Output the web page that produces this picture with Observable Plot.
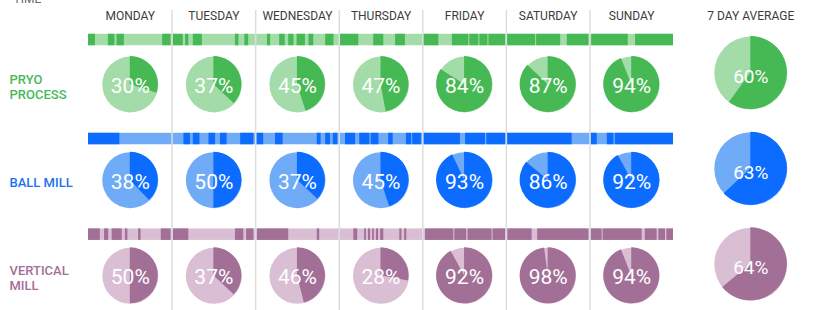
<!DOCTYPE html>
<html>
<head>
<meta charset="utf-8">
<script src="https://cdn.jsdelivr.net/npm/d3@7"></script>
<script src="https://cdn.jsdelivr.net/npm/@observablehq/plot@0.6"></script>
<style>
  html, body { margin: 0; padding: 0; background: #fff; }
  #chart svg { display: block; overflow: visible; }
  g[aria-label="pct"] text { text-shadow: 0 1px 2px rgba(0,0,0,0.35); }
</style>
</head>
<body>
<div id="chart"></div>
<script>
// ---------- data ----------
const days = ["MONDAY", "TUESDAY", "WEDNESDAY", "THURSDAY", "FRIDAY", "SATURDAY", "SUNDAY"];
const averageHeader = "7 DAY AVERAGE";
const processes = ["PRYO PROCESS", "BALL MILL", "VERTICAL MILL"];
const processLabels = ["PRYO\nPROCESS", "BALL MILL", "VERTICAL\nMILL"];

// daily running share (%)
const pyroPct = [30, 37, 45, 47, 84, 87, 94];
const ballPct = [38, 50, 37, 45, 93, 86, 92];
const vertPct = [50, 37, 46, 28, 92, 98, 94];
const averagePct = [60, 63, 64];

// running periods, [start hour, end hour] over the 168-hour week
const pyroRuns = [
  [0, 2.0], [5.7, 7.6], [8.2, 10.3], [21.3, 23.7],
  [24.3, 27.2], [27.9, 28.8], [30.1, 32.7], [42.2, 43.2], [44.9, 46.0],
  [51.4, 52.3], [54.9, 56.5], [57.5, 59.0], [59.9, 62.3], [63.3, 64.7], [68.1, 70.5],
  [72.4, 77.6], [81.9, 84.8], [88.2, 91.0],
  [96.3, 100.6], [104.5, 109.2], [109.5, 112.1], [112.4, 114.7], [115.0, 119.8],
  [120.3, 128.4], [128.7, 135.6], [137.5, 143.7],
  [144.5, 155.0], [157.1, 168]
];
const ballRuns = [
  [0, 9.0],
  [27.4, 29.3], [30.1, 32.0], [34.6, 36.5], [37.9, 39.8], [43.7, 47.5],
  [48.4, 50.3], [53.7, 55.9], [65.7, 66.8], [68.1, 69.5], [70.3, 71.6],
  [73.8, 76.7], [77.9, 80.8], [81.2, 83.4], [86.2, 87.5], [91.3, 92.8], [93.1, 95.6],
  [96.3, 106.8], [108.3, 114.0], [114.4, 119.8],
  [120.2, 138.9],
  [144.4, 146.1], [149.0, 150.9], [151.3, 168]
];
const vertRuns = [
  [0, 3.4], [4.6, 5.8], [6.8, 9.7], [10.6, 11.3], [14.4, 15.1], [20.9, 23.7],
  [24.3, 28.8], [42.2, 44.6], [45.4, 47.5],
  [48.5, 57.5], [65.7, 66.4],
  [76.2, 77.3], [79.3, 79.8], [80.4, 81.0], [81.6, 82.1], [82.7, 83.3], [83.9, 84.8], [89.4, 90.0], [90.8, 91.4],
  [96.8, 104.9], [105.2, 108.6], [109.0, 115.9], [116.2, 119.8],
  [120.4, 127.4], [129.0, 143.7],
  [144.4, 147.5], [147.8, 159.0], [159.9, 163.3], [163.8, 165.7], [166.1, 168]
];

// ---------- styles ----------
const darkColors = ["#46b955", "#0b6cff", "#a26f97"];
const lightColors = ["#a3dca8", "#6fabf7", "#d9bed4"];
const labelColors = ["#48b958", "#1a72f2", "#a26f97"];

// ---------- layout (scale units: x = days, y = rows) ----------
const W = 821, H = 310;
const X0 = 88, PX_DAY = 585 / 7;   // strip starts at x=88, 7 days span 585px
const Y0 = 84, PX_ROW = 95.65;     // first row of pies at y=84
const xOpts = {domain: [-X0 / PX_DAY, (W - X0) / PX_DAY], range: [0, W], axis: null};
const yOpts = {domain: [-Y0 / PX_ROW, (H - Y0) / PX_ROW], range: [0, H], axis: null};
const avgX = 7.925;
const stripShift = [-0.035, 0, 0];

const pctRows = [pyroPct, ballPct, vertPct];
const runRows = [pyroRuns, ballRuns, vertRuns];

const dailyPies = pctRows.flatMap((vals, row) => vals.map((value, day) => ({row, day, value})));
const avgPies = averagePct.map((value, row) => ({row, value}));
const stripBg = processes.map((name, row) => ({row}));
const runs = runRows.flatMap((segs, row) => segs.map(([a, b]) => ({row, a, b})));

function wedgeMark(data, radius, xf, yf) {
  return (index, scales) => {
    const sx = typeof scales.x === "function" ? scales.x : Plot.scale({x: xOpts}).apply;
    const sy = typeof scales.y === "function" ? scales.y : Plot.scale({y: yOpts}).apply;
    const g = d3.create("svg:g").attr("aria-label", "wedges");
    const arc = d3.arc();
    for (const d of data) {
      g.append("path")
        .attr("d", arc({innerRadius: 0, outerRadius: radius, startAngle: 0, endAngle: 2 * Math.PI * d.value / 100}))
        .attr("transform", `translate(${sx(xf(d))},${sy(yf(d))})`)
        .attr("fill", darkColors[d.row]);
    }
    return g.node();
  };
}

const sy1 = d => d.row - 0.49 + stripShift[d.row];
const sy2 = d => d.row - 0.37 + stripShift[d.row];

const chart = Plot.plot({
  width: W,
  height: H,
  margin: 0,
  x: xOpts,
  y: yOpts,
  color: {type: "identity"},
  style: {fontFamily: "Roboto, 'Open Sans', sans-serif", background: "#fff", overflow: "visible"},
  marks: [
    // cut-off title at top
    Plot.text(["TIME"], {x: () => (13 - X0) / PX_DAY, y: () => (-1 - Y0) / PX_ROW, text: d => d, textAnchor: "start", fill: "#666", fontSize: 12}),
    // strips
    Plot.rect(stripBg, {x1: () => 0, x2: () => 7, y1: sy1, y2: sy2, fill: d => lightColors[d.row]}),
    Plot.rect(runs, {x1: d => d.a / 24, x2: d => d.b / 24, y1: sy1, y2: sy2, fill: d => darkColors[d.row]}),
    // day separators
    Plot.ruleX([1, 2, 3, 4, 5, 6], {y1: () => (10 - Y0) / PX_ROW, y2: () => yOpts.domain[1], stroke: "#dddddd", strokeWidth: 1.5}),
    // headers
    Plot.text(days, {x: (d, i) => i + 0.5, y: () => (16 - Y0) / PX_ROW, text: d => d, fill: "#3c3c3c", fontSize: 12}),
    Plot.text([averageHeader], {x: () => avgX, y: () => (16 - Y0) / PX_ROW, text: d => d, fill: "#3c3c3c", fontSize: 12}),
    // row labels
    Plot.text(processLabels, {x: () => (9 - X0) / PX_DAY, y: (d, i) => i + 0.02, text: d => d, textAnchor: "start", fill: (d, i) => labelColors[i], fontSize: 13, fontWeight: 500, lineHeight: 1.15}),
    // daily pies
    Plot.dot(dailyPies, {x: d => d.day + 0.5, y: d => d.row, r: 28, fill: d => lightColors[d.row], stroke: null}),
    wedgeMark(dailyPies, 28, d => d.day + 0.5, d => d.row),
    Plot.text(dailyPies, {x: d => d.day + 0.5, y: d => d.row + 0.02, text: d => d.value + "%", fill: "white", fontSize: 21, ariaLabel: "pct"}),
    // 7 day average pies
    Plot.dot(avgPies, {x: () => avgX, y: d => d.row - 0.12, r: 36.5, fill: d => lightColors[d.row], stroke: null}),
    wedgeMark(avgPies, 36.5, () => avgX, d => d.row - 0.12),
    Plot.text(avgPies, {x: () => avgX, y: d => d.row - 0.12 + 0.04, text: d => d.value + "%", fill: "white", fontSize: 19, ariaLabel: "pct"})
  ]
});
document.getElementById("chart").append(chart);
</script>
</body>
</html>
